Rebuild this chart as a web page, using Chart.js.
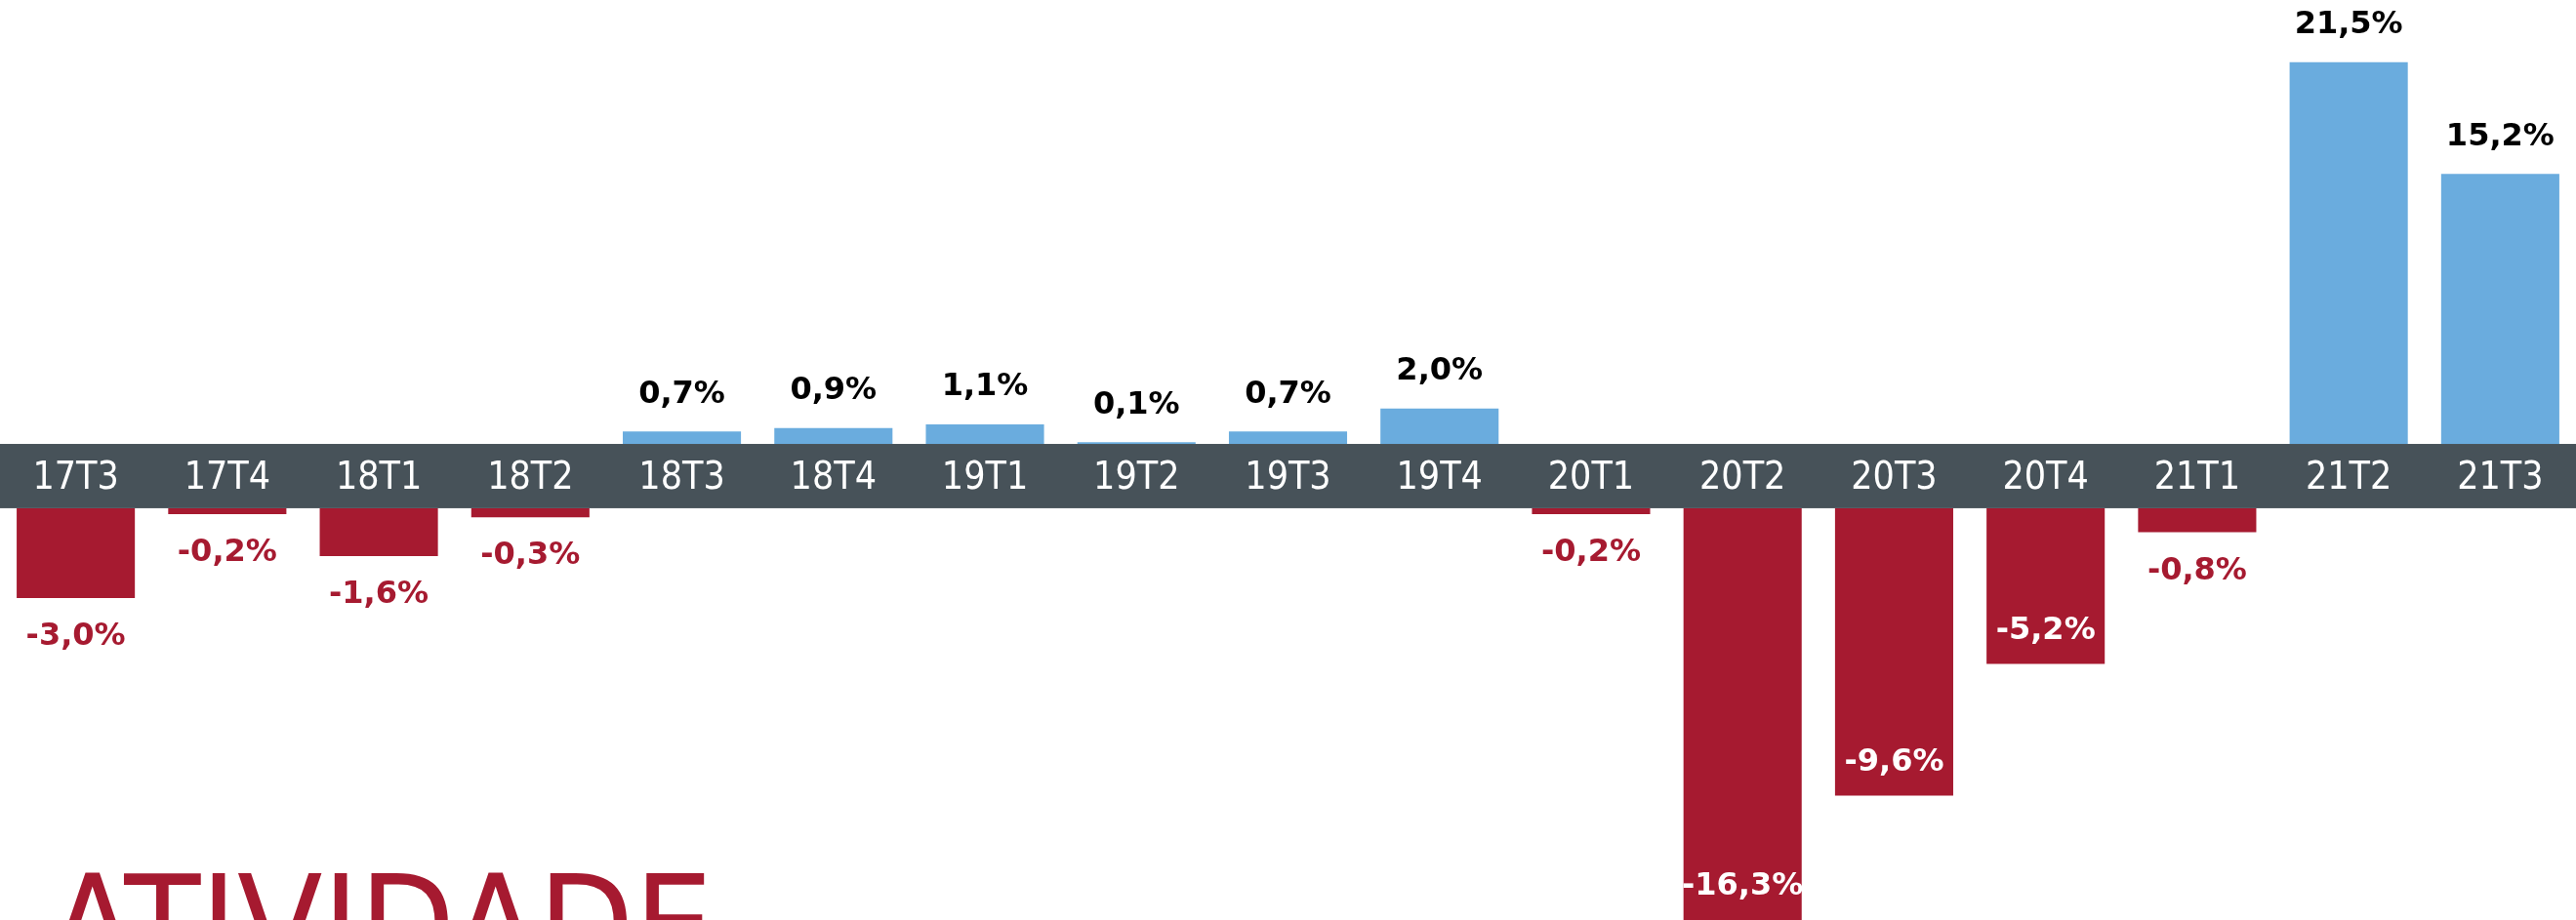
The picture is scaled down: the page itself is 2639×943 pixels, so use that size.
<!DOCTYPE html>
<html>
<head>
<meta charset="utf-8">
<script src="https://cdn.jsdelivr.net/npm/chart.js@4/dist/chart.umd.min.js"></script>
<style>
    body { margin: 0; overflow: hidden; background: #fff; }
    .wrap { position: relative; width: 2639px; height: 943px; overflow: hidden; }
    #heading {
        position: absolute;
        left: 51px;
        top: 879px;
        font-family: 'Liberation Sans Narrow', 'DejaVu Sans Condensed', sans-serif;
        font-size: 142px;
        line-height: 1;
        color: #a61a30;
        white-space: nowrap;
    }
</style>
</head>
<body>
<div class="wrap">
    <canvas id="activityChart" width="2639" height="943"></canvas>
    <div id="heading">ATIVIDADE</div>
</div>
<script>
// trimestres e variação (%)
const quarters = ['17T3', '17T4', '18T1', '18T2', '18T3', '18T4', '19T1', '19T2', '19T3',
    '19T4', '20T1', '20T2', '20T3', '20T4', '21T1', '21T2', '21T3'];
const changes = [-3.0, -0.2, -1.6, -0.3, 0.7, 0.9, 1.1, 0.1, 0.7,
    2.0, -0.2, -16.3, -9.6, -5.2, -0.8, 21.5, 15.2];

const gains = changes.map(v => v >= 0 ? v : null);
const losses = changes.map(v => v < 0 ? v : null);

const BLUE = '#6aacde';
const RED = '#a61a30';
const BAND = '#475259';

// faixa cinza entre a base positiva e a base negativa
const axisBand = {
    id: 'axisBand',
    beforeDraw(chart) {
        const ctx = chart.ctx;
        const top = chart.scales.yPos.getPixelForValue(0);
        const bottom = chart.scales.yNeg.getPixelForValue(0);
        ctx.save();
        ctx.fillStyle = BAND;
        ctx.fillRect(0, top, chart.width, bottom - top);
        ctx.restore();
    }
};

// rótulos de valor
const valueLabels = {
    id: 'valueLabels',
    afterDatasetsDraw(chart) {
        const ctx = chart.ctx;
        const area = chart.chartArea;
        ctx.save();
        ctx.font = 'bold 32px "DejaVu Sans"';
        ctx.textAlign = 'center';
        ctx.textBaseline = 'middle';
        chart.data.datasets.forEach((ds, i) => {
            chart.getDatasetMeta(i).data.forEach((bar, j) => {
                const v = ds.data[j];
                if (v === null) return;
                const text = v.toFixed(1).replace('.', ',') + '%';
                if (v >= 0) {
                    ctx.fillStyle = '#000';
                    ctx.fillText(text, bar.x, bar.y - 38);
                } else {
                    const end = Math.min(bar.y, area.bottom);
                    if (end - bar.base > 120) {
                        ctx.fillStyle = '#fff';
                        ctx.fillText(text, bar.x, end - 34);
                    } else {
                        ctx.fillStyle = RED;
                        ctx.fillText(text, bar.x, bar.y + 40);
                    }
                }
            });
        });
        ctx.restore();
    }
};

new Chart(document.getElementById('activityChart'), {
    type: 'bar',
    data: {
        labels: quarters,
        datasets: [
            {
                label: 'Positivo',
                data: gains,
                yAxisID: 'yPos',
                backgroundColor: BLUE,
                grouped: false,
                barPercentage: 0.78,
                categoryPercentage: 1
            },
            {
                label: 'Negativo',
                data: losses,
                yAxisID: 'yNeg',
                backgroundColor: RED,
                grouped: false,
                barPercentage: 0.78,
                categoryPercentage: 1
            }
        ]
    },
    options: {
        responsive: false,
        animation: false,
        layout: { padding: 0 },
        plugins: {
            legend: { display: false },
            tooltip: { enabled: false }
        },
        scales: {
            x: {
                position: { yPos: 0 },
                grid: { display: false, drawTicks: false },
                border: { display: false },
                ticks: {
                    color: '#fff',
                    padding: 12,
                    maxRotation: 0,
                    autoSkip: false,
                    font: { family: "'Liberation Sans Narrow', 'DejaVu Sans Condensed', sans-serif", size: 39 }
                }
            },
            yPos: {
                display: false,
                min: -26.81,
                max: 25.0
            },
            yNeg: {
                display: false,
                min: -13.75,
                max: 16.97
            }
        }
    },
    plugins: [axisBand, valueLabels]
});
</script>
</body>
</html>
